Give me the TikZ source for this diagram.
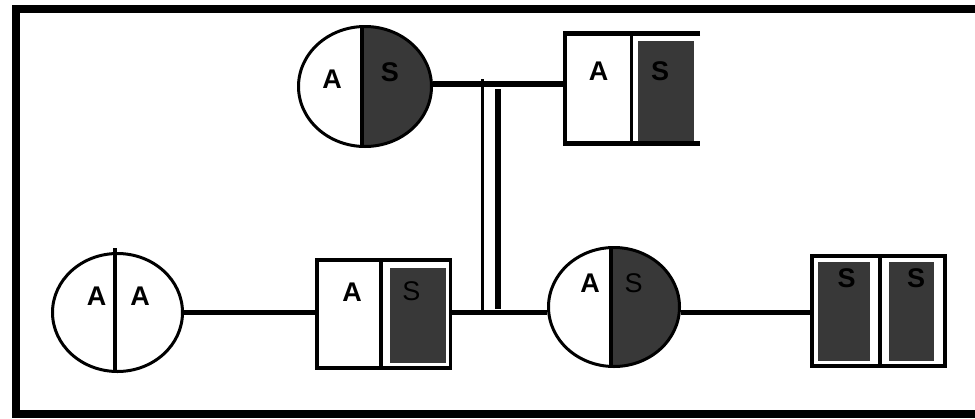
\documentclass[tikz,border=0pt]{standalone}
\usepackage{fontspec}
\setmainfont{Liberation Sans}
\usetikzlibrary{shapes.geometric}
\definecolor{darkfill}{RGB}{56,56,56}
\tikzset{
  halfcirc/.style={ellipse, draw, line width=3pt, inner sep=0pt, fill=white,
    path picture={\fill[darkfill] ([xshift=#1]path picture bounding box.north)
      rectangle (path picture bounding box.south east);}},
  plaincirc/.style={ellipse, draw, line width=3pt, inner sep=0pt, fill=white},
  boxnode/.style={rectangle, inner sep=0pt},
  shade/.style={rectangle, fill=darkfill, inner sep=0pt},
  divider/.style={line width=4pt},
  conn/.style={line width=5pt},
  lbl/.style={inner sep=0pt, font=\fontsize{27}{27}\selectfont\bfseries},
  lbllight/.style={inner sep=0pt, font=\fontsize{27}{27}\selectfont},
}
\begin{document}
\begin{tikzpicture}[x=1pt,y=-1pt]
\useasboundingbox (0,0) rectangle (975,418);
\fill[white] (0,0) rectangle (975,418);
% outer frame (right side runs past the page edge)
\draw[line width=8pt] (16,9) rectangle (995,413.5);

% top pair
\node[halfcirc=-3pt, minimum width=133pt, minimum height=120pt] (c1) at (365,86.5) {};
\draw[divider] ([xshift=-3pt]c1.north) -- ([xshift=-3pt]c1.south);
\node[lbl] (c1a) at (332,79.5) {A};
\node[lbl] (c1s) at (390,72) {S};

\node[boxnode, minimum width=135pt, minimum height=110pt] (b1) at (632.5,88.5) {};
\node[shade, minimum width=56pt, minimum height=100pt] (b1f) at (666,91) {};
\draw[line width=4.5pt] (b1.north east) -- (b1.north west) -- (b1.south west) -- (b1.south east);
\draw[line width=3.5pt] ([xshift=-1pt]b1.north) -- ([xshift=-1pt]b1.south);
\node[lbl] (b1a) at (598.5,71.5) {A};
\node[lbl] (b1s) at (660,71) {S};

\draw[line width=6pt] ([yshift=2.5pt]c1.east) -- ([yshift=2.5pt]c1.east -| b1.west);

% bottom row
\node[plaincirc, minimum width=130pt, minimum height=118pt] (c3) at (117.5,312.5) {};
\draw[divider, shorten <=-4pt] ([xshift=-2.5pt]c3.north) -- ([xshift=-2.5pt]c3.south);
\node[lbl] (c3a) at (96.5,296.5) {A};
\node[lbl] (c3b) at (140,296.5) {A};

\node[boxnode, draw, line width=3.5pt, minimum width=133.5pt, minimum height=108pt] (b2) at (383.75,314) {};
\node[shade, minimum width=56pt, minimum height=95pt] (b2f) at (418,315.5) {};
\draw[divider] ([xshift=-3.25pt]b2.north) -- ([xshift=-3.25pt]b2.south);
\node[lbl] (b2a) at (352,292) {A};
\node[lbllight] (b2s) at (411.5,291) {S};

\node[halfcirc=-3pt, minimum width=131pt, minimum height=119pt] (c2) at (614,307) {};
\draw[divider] ([xshift=-3pt]c2.north) -- ([xshift=-3pt]c2.south);
\node[lbl] (c2a) at (590,283) {A};
\node[lbllight] (c2s) at (633.5,283) {S};

\node[boxnode, draw, line width=3.5pt, minimum width=133pt, minimum height=110pt] (b3) at (878.5,311) {};
\node[shade, minimum width=52pt, minimum height=99pt] (b3f) at (844,311.5) {};
\node[shade, minimum width=45pt, minimum height=99pt] (b3g) at (911.5,311.5) {};
\draw[divider] ([xshift=1pt]b3.north) -- ([xshift=1pt]b3.south);
\node[lbl] (b3s) at (846.5,278) {S};
\node[lbl] (b3t) at (916,278) {S};

% connectors along the bottom row
\draw[conn] (c3.east) -- (b2.west |- c3.east);
\draw[conn] (b2.east |- c3.east) -- (c2.west |- c3.east);
\draw[conn] (c2.east |- c3.east) -- (b3.west |- c3.east);

% double line joining the top pair to the bottom row
\coordinate (d1top) at (482.5,79);
\coordinate (d2top) at (498,89);
\draw[line width=3pt] (d1top) -- (d1top |- c3.east);
\draw[line width=6pt] (d2top) -- ([yshift=4pt]d2top |- c3.east);
\end{tikzpicture}
\end{document}
